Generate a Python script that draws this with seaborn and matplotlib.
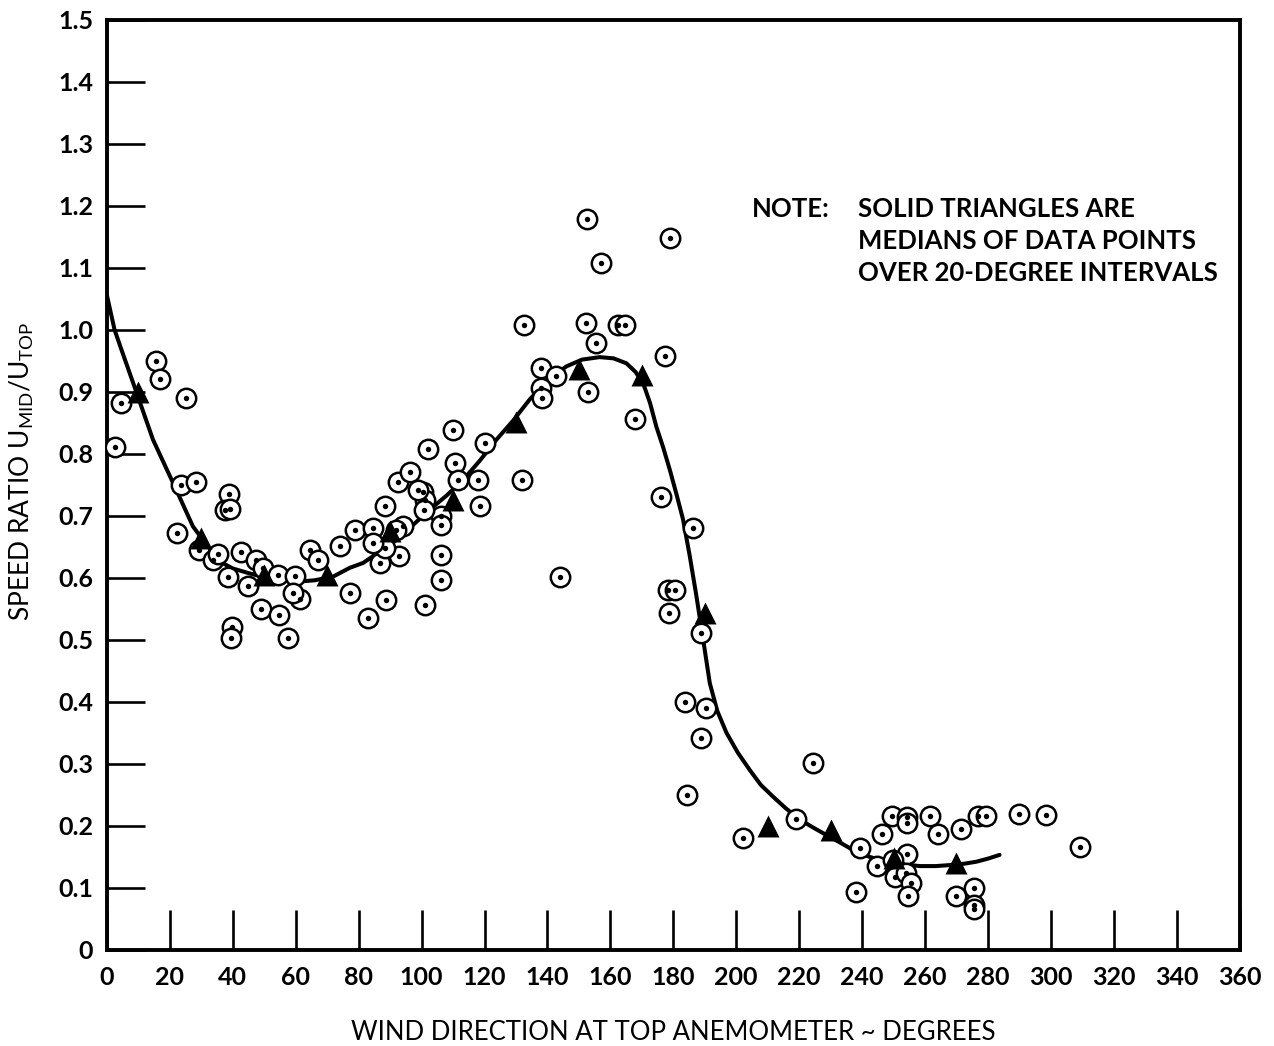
import matplotlib
matplotlib.use("Agg")
import matplotlib.pyplot as plt
import seaborn as sns
import pandas as pd

# Observed speed ratios (wind direction in degrees, ratio U_MID/U_TOP)
obs_direction = [
    2.4, 4.3, 15.7, 16.8, 25.0, 23.6, 28.2, 38.8, 37.4, 39.2, 22.1, 29.2,
    33.8, 35.3, 42.7, 38.5, 44.8, 47.5, 49.6, 54.4, 59.7, 61.3, 59.1, 64.4,
    67.1, 49.0, 54.6, 57.4, 39.6, 39.3,
    73.9, 77.1, 78.7, 84.4, 88.3, 92.5, 96.2, 100.4, 101.0, 102.0, 110.0,
    110.5, 120.0, 117.9, 118.5, 111.6, 106.3, 106.3, 106.3, 106.3, 101.0,
    88.8, 83.0, 92.8, 86.7, 88.3, 94.1, 92.0, 84.6, 98.9, 100.6,
    132.0, 132.5, 137.8, 142.8, 138.1, 138.4, 152.9, 152.2, 155.5, 162.3,
    164.6, 143.9, 152.5, 157.0, 179.1, 177.3, 167.7, 176.2, 186.1, 178.3,
    180.5, 178.6, 188.9, 183.6, 190.5, 188.7, 184.4, 202.2,
    224.4, 219.1, 239.3, 238.2, 246.2, 249.4, 254.3, 254.2, 261.5, 264.1,
    271.6, 276.9, 279.3, 289.9, 298.6, 309.4, 254.3, 244.6, 249.9, 250.4,
    254.1, 255.7, 254.6, 270.0, 275.6, 275.6, 275.6,
]
obs_ratio = [
    0.811, 0.882, 0.950, 0.921, 0.890, 0.750, 0.754, 0.735, 0.710, 0.711, 0.673, 0.645,
    0.629, 0.639, 0.642, 0.602, 0.586, 0.629, 0.616, 0.605, 0.603, 0.566, 0.575, 0.645,
    0.629, 0.550, 0.540, 0.503, 0.521, 0.503,
    0.652, 0.575, 0.677, 0.680, 0.716, 0.755, 0.770, 0.738, 0.726, 0.808, 0.838,
    0.786, 0.817, 0.758, 0.716, 0.758, 0.699, 0.685, 0.637, 0.597, 0.556,
    0.565, 0.535, 0.635, 0.624, 0.648, 0.683, 0.677, 0.656, 0.742, 0.710,
    0.757, 1.007, 0.938, 0.926, 0.906, 0.890, 0.899, 1.011, 0.978, 1.008,
    1.008, 0.601, 1.179, 1.108, 1.148, 0.958, 0.856, 0.731, 0.680, 0.581,
    0.581, 0.544, 0.511, 0.400, 0.390, 0.341, 0.250, 0.180,
    0.302, 0.211, 0.164, 0.093, 0.187, 0.215, 0.214, 0.205, 0.216, 0.187,
    0.195, 0.216, 0.216, 0.219, 0.217, 0.166, 0.155, 0.135, 0.144, 0.118,
    0.124, 0.108, 0.086, 0.086, 0.099, 0.073, 0.065,
]

# Medians over 20-degree intervals
median_direction = [10, 30, 50, 70, 90, 110, 130, 150, 170, 190, 210, 230, 250, 270]
median_ratio = [0.900, 0.665, 0.605, 0.605, 0.675, 0.726, 0.852, 0.937, 0.927,
                0.543, 0.199, 0.194, 0.148, 0.140]

# Faired curve through the medians
curve_direction = [0.0, 2.4, 5.0, 9.3, 14.6, 22.0, 27.3, 30.5, 34.8, 40.0, 45.4,
                   52.0, 61.2, 66.0, 71.9, 77.1, 81.4, 86.0, 92.0, 97.0, 102.6,
                   108.0, 113.2, 118.5, 123.8, 129.0, 134.4, 140.0, 146.0, 151.0,
                   156.6, 161.0, 165.1, 168.0, 170.4, 172.6, 174.6, 176.8, 178.9,
                   181.0, 183.1, 185.2, 187.3, 189.5, 191.6, 194.0, 196.9, 200.5,
                   204.3, 207.8, 211.7, 215.8, 220.2, 224.5, 228.7, 233.0, 237.1,
                   242.3, 247.7, 253.0, 258.3, 263.5, 268.9, 272.7, 276.3, 280.0,
                   283.7]
curve_ratio = [1.055, 1.000, 0.962, 0.900, 0.823, 0.742, 0.683, 0.661, 0.629, 0.615,
               0.607, 0.598, 0.594, 0.596, 0.602, 0.616, 0.624, 0.640, 0.661, 0.684,
               0.710, 0.733, 0.758, 0.789, 0.823, 0.853, 0.888, 0.918, 0.941, 0.952,
               0.956, 0.954, 0.946, 0.932, 0.914, 0.882, 0.844, 0.810, 0.774, 0.735,
               0.694, 0.636, 0.572, 0.500, 0.430, 0.385, 0.350, 0.318, 0.290, 0.266,
               0.247, 0.228, 0.210, 0.197, 0.185, 0.173, 0.161, 0.150, 0.142, 0.138,
               0.135, 0.135, 0.137, 0.139, 0.142, 0.147, 0.153]

x_ticks = list(range(0, 361, 20))
y_ticks = [round(0.1 * i, 1) for i in range(16)]
y_tick_labels = ["0"] + [f"{v:.1f}" for v in y_ticks[1:]]

obs = pd.DataFrame({"direction": obs_direction, "ratio": obs_ratio})
med = pd.DataFrame({"direction": median_direction, "ratio": median_ratio})
curve = pd.DataFrame({"direction": curve_direction, "ratio": curve_ratio})

sns.set_theme(style="white")
plt.rcParams["font.family"] = ["Lato", "DejaVu Sans"]
plt.rcParams["mathtext.fontset"] = "custom"
plt.rcParams["mathtext.rm"] = "Lato"

fig = plt.figure(figsize=(12.74, 10.46), dpi=100)
ax = fig.add_axes([0.084, 0.092, 0.889, 0.889])

ink = "black"

sns.lineplot(data=curve, x="direction", y="ratio", ax=ax, color=ink,
             linewidth=2.9, sort=False, estimator=None, zorder=3)

# Circle-with-centre-dot symbols
sns.scatterplot(data=obs, x="direction", y="ratio", ax=ax, marker="o", s=195,
                facecolor="white", edgecolor=ink, linewidth=1.8, zorder=4)
sns.scatterplot(data=obs, x="direction", y="ratio", ax=ax, marker="o", s=15,
                color=ink, edgecolor=ink, linewidth=0, zorder=5)

sns.scatterplot(data=med, x="direction", y="ratio", ax=ax, marker="^", s=250,
                color=ink, edgecolor=ink, linewidth=0, zorder=6)

ax.set_xlim(0, 360)
ax.set_ylim(0, 1.5)
ax.set_xticks(x_ticks)
ax.set_xticklabels([str(v) for v in x_ticks])
ax.set_yticks(y_ticks)
ax.set_yticklabels(y_tick_labels)

ax.tick_params(axis="x", direction="in", length=29, width=1.9, color=ink,
               pad=12, labelsize=18, labelcolor=ink, bottom=True)
ax.tick_params(axis="y", direction="in", length=27, width=1.9, color=ink,
               pad=10, labelsize=18, labelcolor=ink, left=True)
for lab in ax.get_xticklabels() + ax.get_yticklabels():
    lab.set_fontweight("bold")

for side in ax.spines.values():
    side.set_visible(True)
    side.set_color(ink)
    side.set_linewidth(2.8)

ax.set_xlabel("WIND DIRECTION AT TOP ANEMOMETER ~ DEGREES", fontsize=18.5,
              color=ink, labelpad=22)
ax.set_ylabel(r"SPEED RATIO U$_{\mathregular{MID}}$/U$_{\mathregular{TOP}}$",
              fontsize=19, color=ink)
ax.yaxis.set_label_coords(-0.063, 0.515)

note_y = 0.809
ax.text(0.569, note_y, "NOTE:", transform=ax.transAxes, fontsize=18.5,
        fontweight="bold", color=ink, va="top", ha="left")
ax.text(0.663, note_y, "SOLID TRIANGLES ARE\nMEDIANS OF DATA POINTS\nOVER 20-DEGREE INTERVALS",
        transform=ax.transAxes, fontsize=18.5, fontweight="bold", color=ink,
        va="top", ha="left", linespacing=1.4)

ax.grid(False)
fig.savefig("out.png", dpi=100, facecolor="white")
